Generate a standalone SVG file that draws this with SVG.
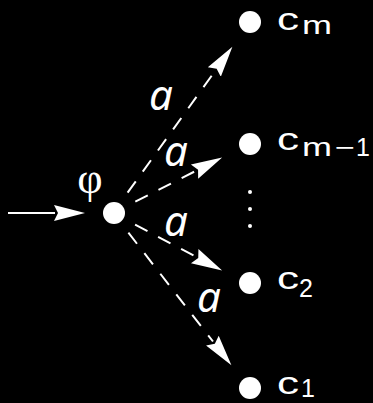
<svg xmlns="http://www.w3.org/2000/svg" width="373" height="403" viewBox="0 0 373 403">
<defs>
<style>
.dot{fill:#fff}
.edge{fill:none;stroke:#fff;stroke-width:2}
.dash{stroke-dasharray:14 12}
.lbl{font-family:"Liberation Sans","DejaVu Sans",sans-serif;fill:#fff}
.a{font-family:"Noto Sans","DejaVu Sans",sans-serif;font-size:42px;font-style:italic;text-anchor:middle}
.c{font-size:32px}
.s{font-size:25px}
</style>
<marker id="head" markerUnits="userSpaceOnUse" markerWidth="34" markerHeight="20" viewBox="0 -10 34 20" refX="1" refY="0" orient="auto">
<path d="M0,-8 L31,0 L0,8 L4,0 z" fill="#fff"/>
</marker>
</defs>
<rect width="373" height="403" fill="#000"/>
<g id="connectors">
<path class="edge" d="M8,213 L55,213" marker-end="url(#head)"/>
<path class="edge dash" d="M127.6,192.7 L214.9,71.2" marker-end="url(#head)"/>
<path class="edge dash" d="M135.3,201.7 L195.4,171.1" marker-end="url(#head)"/>
<path class="edge dash" d="M135.1,224.7 L195.6,256.6" marker-end="url(#head)"/>
<path class="edge dash" d="M128.4,232.7 L213,341.5" marker-end="url(#head)"/>
<text class="lbl a" x="161" y="110">a</text>
<text class="lbl a" x="176" y="166">a</text>
<text class="lbl a" x="176" y="236">a</text>
<text class="lbl a" x="209" y="312">a</text>
</g>
<g id="phi">
<circle class="dot" cx="114" cy="213" r="11"/>
<text x="90" y="193" font-family="Liberation Serif, DejaVu Serif, serif" font-size="44" fill="#fff" text-anchor="middle">φ</text>
</g>
<g id="cm">
<circle class="dot" cx="250" cy="22" r="11"/>
<text class="lbl c" x="277" y="29.5"><tspan textLength="22" lengthAdjust="spacingAndGlyphs">c</tspan><tspan class="s" x="302" y="34" textLength="30" lengthAdjust="spacingAndGlyphs">m</tspan></text>
</g>
<g id="cm1">
<circle class="dot" cx="250" cy="144" r="11"/>
<text class="lbl c" x="277" y="150"><tspan textLength="22" lengthAdjust="spacingAndGlyphs">c</tspan><tspan class="s" x="302" y="156" textLength="30" lengthAdjust="spacingAndGlyphs">m</tspan><tspan class="s" x="335" y="156" textLength="20" lengthAdjust="spacingAndGlyphs">−</tspan><tspan class="s" x="356" y="156">1</tspan></text>
</g>
<g id="vdots">
<circle class="dot" cx="250" cy="192" r="2"/>
<circle class="dot" cx="250" cy="209" r="2"/>
<circle class="dot" cx="250" cy="226" r="2"/>
</g>
<g id="c2">
<circle class="dot" cx="250" cy="283" r="11"/>
<text class="lbl c" x="277" y="289"><tspan textLength="22" lengthAdjust="spacingAndGlyphs">c</tspan><tspan class="s" x="299" y="297">2</tspan></text>
</g>
<g id="c1">
<circle class="dot" cx="250" cy="388" r="11"/>
<text class="lbl c" x="277" y="394"><tspan textLength="22" lengthAdjust="spacingAndGlyphs">c</tspan><tspan class="s" x="301" y="397">1</tspan></text>
</g>
</svg>
